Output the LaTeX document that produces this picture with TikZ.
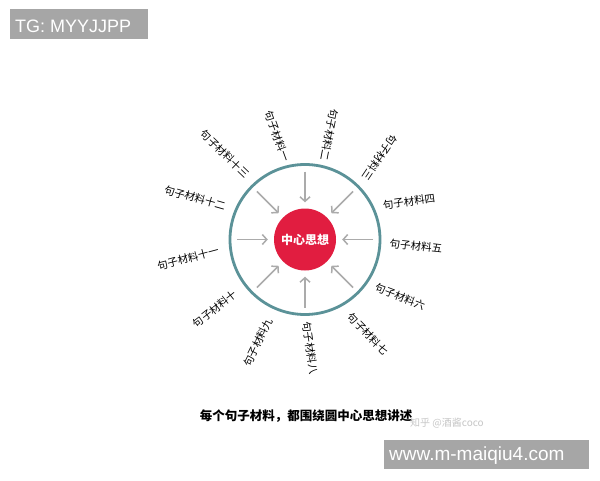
\documentclass[tikz,border=0pt]{standalone}
\usepackage{fontspec}
\setmainfont{Noto Sans CJK SC}
\newfontfamily\tagfont{Liberation Sans}
\usetikzlibrary{calc,arrows.meta}

\definecolor{ringteal}{HTML}{5B9298}
\definecolor{corered}{HTML}{E11D40}
\definecolor{arrowgray}{HTML}{ABABAB}
\definecolor{taggray}{HTML}{A6A6A6}

\begin{document}
\begin{tikzpicture}[x=1pt,y=-1pt]
  % overall canvas
  \useasboundingbox (0,0) rectangle (600,480);

  % styles
  \tikzset{
    ring/.style={circle,draw=ringteal,line width=2.8pt,minimum size=150pt,inner sep=0pt},
    core/.style={circle,fill=corered,minimum size=62pt,inner sep=0pt,text=white,
      font=\bfseries\fontsize{12}{12}\selectfont},
    arr/.style={draw=arrowgray,line width=1.5pt,-{Straight Barb[length=4.5pt,width=10pt]},shorten >=6pt},
    mat/.style={font=\fontsize{10.5}{10.5}\selectfont,inner sep=0pt},
    tagtext/.style={text=white,font=\tagfont,anchor=base west,inner sep=0pt},
  }

  % white background
  \fill[white] (0,0) rectangle (600,480);

  % corner tags
  \fill[taggray] (10,9.3) rectangle (148,39.3);
  \node[tagtext,font=\tagfont\fontsize{18}{18}\selectfont] (tg) at (15,32) {TG: MYYJJPP};
  \fill[taggray] (384,440) rectangle (589.3,469.3);
  \node[tagtext,font=\tagfont\fontsize{19}{19}\selectfont] (web) at (389,460) {www.m-maiqiu4.com};

  % ring and core
  \node[ring] (r) at (305,239.5) {};
  \node[core] (c) at (305,239.5) {中心思想};

  % arrows pointing to the core
  \foreach \a in {0,45,...,315} {
    \coordinate (t\a) at ($(c)+(\a:68)$);
    \draw[arr] (t\a) -- (c);
  }

  % materials round the ring
  \node[mat,rotate=-70]  (l1)  at (277.5,136) {句子材料一};
  \node[mat,rotate=-101] (l2)  at (329,135)   {句子材料二};
  \node[mat,rotate=-124] (l3)  at (380,157.5) {句子材料三};
  \node[mat,rotate=8]    (l4)  at (409,201.7) {句子材料四};
  \node[mat,rotate=-6]   (l5)  at (416,246)   {句子材料五};
  \node[mat,rotate=-21]  (l6)  at (400,296.7) {句子材料六};
  \node[mat,rotate=-46]  (l7)  at (368,334)   {句子材料七};
  \node[mat,rotate=-82]  (l8)  at (310,348)   {句子材料八};
  \node[mat,rotate=64]   (l9)  at (258,342.5) {句子材料九};
  \node[mat,rotate=38]   (l10) at (215,309)   {句子材料十};
  \node[mat,rotate=15]   (l11) at (188,258.3) {句子材料十一};
  \node[mat,rotate=-16]  (l12) at (195,198)   {句子材料十二};
  \node[mat,rotate=-44]  (l13) at (225,154)   {句子材料十三};

  % caption and watermark
  \node[font=\bfseries\fontsize{12.5}{12.5}\selectfont,inner sep=0pt] (cap) at (306,416)
    {每个句子材料，都围绕圆中心思想讲述};
  \node[font=\fontsize{10}{10}\selectfont,text=black!22,inner sep=0pt] (wm) at (447,423)
    {知乎 @酒酱coco};
\end{tikzpicture}
\end{document}
